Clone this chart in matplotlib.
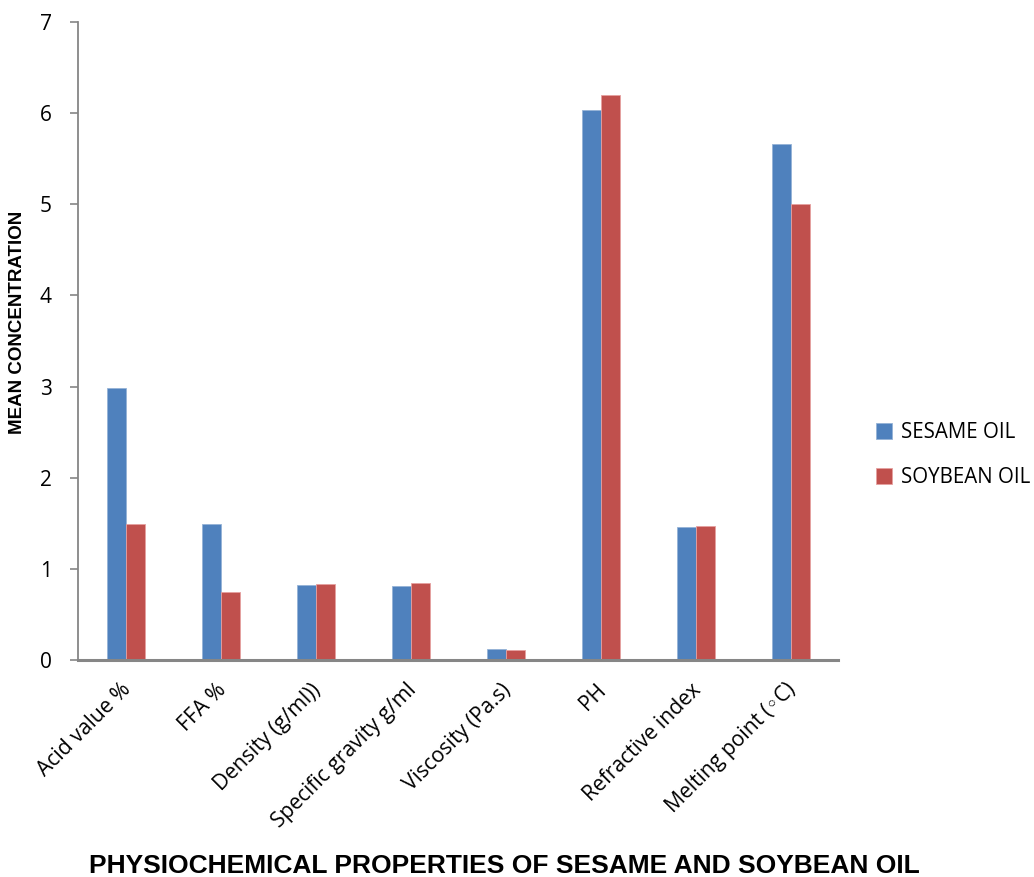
import numpy as np
import matplotlib
matplotlib.use('Agg')
import matplotlib.pyplot as plt
import matplotlib.transforms as mtransforms

# data
categories = ['Acid value %', 'FFA %', 'Density (g/ml))', 'Specific gravity g/ml',
              'Viscosity (Pa.s)', 'PH', 'Refractive index', 'Melting point (\u25e6C)']
sesame = [2.99, 1.49, 0.82, 0.81, 0.12, 6.03, 1.46, 5.66]
soybean = [1.49, 0.75, 0.83, 0.84, 0.11, 6.20, 1.47, 5.00]
series_names = ['SESAME OIL', 'SOYBEAN OIL']
yticks = [0, 1, 2, 3, 4, 5, 6, 7]

blue = '#4F81BD'
red = '#C0504D'
gray = '#868686'
font = ['Open Sans', 'DejaVu Sans']

fig = plt.figure(figsize=(10.34, 8.77), dpi=100)
ax = fig.add_axes([0.0755, 0.2474, 0.735, 0.7275])

x = np.arange(len(categories))
w = 0.2
ax.bar(x - w / 2, sesame, w, color=blue, edgecolor='#95B3D7', linewidth=0.6, label=series_names[0])
ax.bar(x + w / 2, soybean, w, color=red, edgecolor='#E6A0A0', linewidth=0.6, label=series_names[1])

ax.set_xlim(-0.5, len(categories) - 0.5)
ax.set_ylim(0, 7)
ax.set_yticks(yticks)
ax.set_xticks(x)

for s in ['top', 'right']:
    ax.spines[s].set_visible(False)
ax.spines['left'].set_color(gray)
ax.spines['bottom'].set_color(gray)
ax.spines['left'].set_linewidth(1.3)
ax.spines['bottom'].set_linewidth(2.2)

ax.tick_params(axis='y', direction='out', length=6, width=1.2, color=gray, pad=13,
               labelsize=15)
ax.tick_params(axis='x', length=0, pad=14)
for lbl in ax.get_yticklabels():
    lbl.set_family(font)

ax.set_xticklabels(categories, rotation=45, ha='right', rotation_mode='anchor',
                   fontsize=15.2, family=font)
# nudge rotated labels a little to the left, like the reference
shift = mtransforms.ScaledTranslation(-0.05, 0, fig.dpi_scale_trans)
for lbl in ax.get_xticklabels():
    lbl.set_transform(lbl.get_transform() + shift)

ax.set_ylabel('MEAN CONCENTRATION', fontsize=13.5, fontweight='bold',
              family='Liberation Sans')
ax.yaxis.set_label_coords(-0.0684, 0.53)
fig.text(0.4874, 0.0046, 'PHYSIOCHEMICAL PROPERTIES OF SESAME AND SOYBEAN OIL',
         ha='center', va='baseline', fontsize=19, fontweight='bold',
         family='Liberation Sans')

leg = ax.legend(loc='center left', bbox_to_anchor=(1.025, 0.321), frameon=False,
                prop={'family': font, 'size': 14.8},
                handlelength=0.8, handleheight=0.8, handletextpad=0.45,
                labelspacing=1.15)

fig.savefig('out.png', dpi=100)
